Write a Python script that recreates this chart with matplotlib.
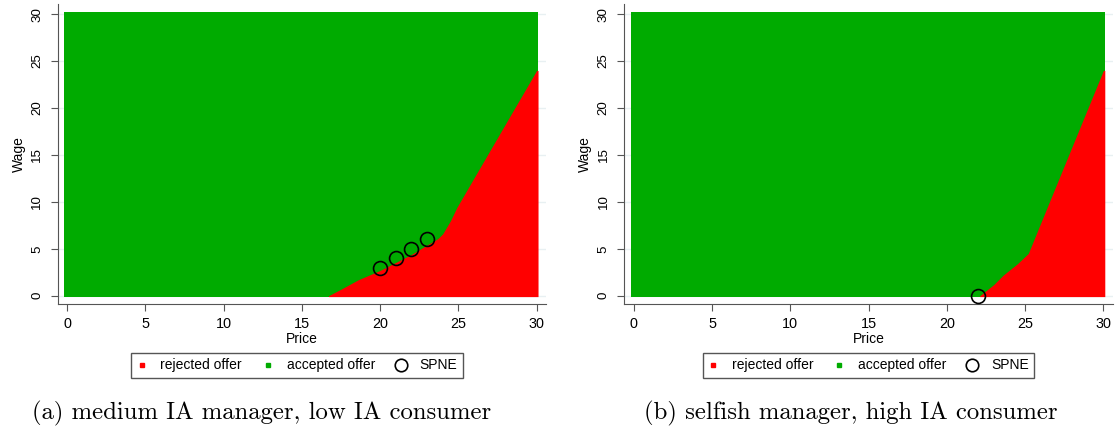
import numpy as np
import matplotlib
matplotlib.use("Agg")
import matplotlib.pyplot as plt
from matplotlib.lines import Line2D

plt.rcParams["font.family"] = ["Liberation Sans", "DejaVu Sans"]
plt.rcParams["font.size"] = 10

# grid of offers (price, wage)
price_range = [0, 30]
wage_range = [0, 30]
ticks = [0, 5, 10, 15, 20, 25, 30]

# boundary between accepted (above) and rejected (below) offers
price_a = [16.7, 17.5, 18.6, 20.0, 22.0, 23.7, 24.0, 24.5, 24.9, 30.0]
wage_a = [0.0, 0.7, 1.7, 2.7, 4.4, 6.1, 6.6, 8.0, 9.4, 24.0]
spne_price_a = [20, 21, 22, 23]
spne_wage_a = [3, 4, 5, 6]

price_b = [22.1, 23.0, 23.6, 24.5, 25.2, 26.6, 30.0]
wage_b = [0.0, 1.2, 2.2, 3.4, 4.5, 10.2, 24.0]
spne_price_b = [22]
spne_wage_b = [0]

captions = ["(a) medium IA manager, low IA consumer",
            "(b) selfish manager, high IA consumer"]

GREEN = "#00ab00"
RED = "#ff0000"
pad = 0.18


def draw_panel(ax, bp, bw, sp, sw, legend_x):
    bp = np.asarray(bp)
    bw = np.asarray(bw)
    # accepted offers: whole grid
    ax.fill_between([price_range[0] - pad, price_range[1] + pad / 2],
                    wage_range[0] - pad / 2, wage_range[1] + pad * 1.4,
                    color=GREEN, lw=0, zorder=2)
    # rejected offers: below boundary
    xs = np.append(bp, price_range[1] + pad / 2)
    ys = np.append(bw, bw[-1])
    ax.fill_between(xs, wage_range[0] - pad / 2, ys, color=RED, lw=0, zorder=3)
    ax.plot(sp, sw, "o", mfc="none", mec="black", ms=10, mew=1.2, zorder=4)

    ax.set_xlim(-0.6, 30.6)
    ax.set_ylim(-0.88, 31.05)
    ax.set_xticks(ticks)
    ax.set_yticks(ticks)
    ax.tick_params(axis="y", labelrotation=90, length=5, color="#555555",
                   labelsize=9.6, pad=5.5)
    ax.tick_params(axis="x", length=5, color="#555555", labelsize=10.4, pad=4)
    for lab in ax.get_yticklabels():
        lab.set_va("center")
    ax.grid(axis="y", color="#e8f0f2", lw=1, zorder=0)
    ax.spines["top"].set_visible(False)
    ax.spines["right"].set_visible(False)
    ax.spines["left"].set_color("#555555")
    ax.spines["bottom"].set_color("#555555")
    ax.set_xlabel("Price", labelpad=1)
    ax.set_ylabel("Wage", labelpad=4)

    handles = [
        Line2D([], [], ls="none", marker="s", ms=2.5, mfc=RED, mec=RED),
        Line2D([], [], ls="none", marker="s", ms=2.5, mfc=GREEN, mec=GREEN),
        Line2D([], [], ls="none", marker="o", ms=9, mfc="none", mec="black", mew=1.2),
    ]
    leg = ax.legend(handles, ["rejected offer", "accepted offer", "SPNE"],
                    ncol=3, loc="upper center", bbox_to_anchor=(legend_x, -0.163),
                    borderaxespad=0, fancybox=False, edgecolor="#555555",
                    framealpha=1, handlelength=0.7, handletextpad=1.0,
                    columnspacing=1.5, borderpad=0.4)
    leg.get_frame().set_linewidth(1.0)


fig = plt.figure(figsize=(11.15, 4.37), dpi=100)
ax1 = fig.add_axes([0.0517, 0.3043, 0.438, 0.686])
ax2 = fig.add_axes([0.560, 0.3043, 0.438, 0.686])

draw_panel(ax1, price_a, wage_a, spne_price_a, spne_wage_a, 0.49)
draw_panel(ax2, price_b, wage_b, spne_price_b, spne_wage_b, 0.50)

fig.text(0.235, 0.055, captions[0], family="cmr10", fontsize=17.8, ha="center", va="center")
fig.text(0.763, 0.055, captions[1], family="cmr10", fontsize=17.8, ha="center", va="center")

fig.savefig("out.png", dpi=100)
